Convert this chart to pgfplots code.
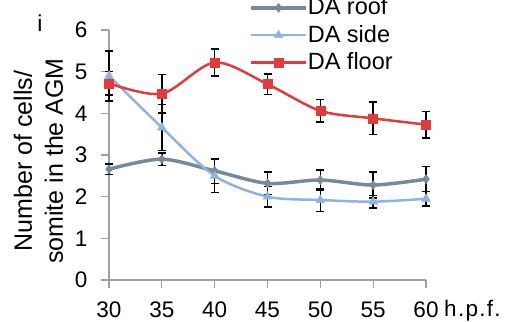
\documentclass[border=0pt]{standalone}
\usepackage{fontspec}
\setmainfont{Liberation Sans}
\usepackage{pgfplots}
\usepackage{pgfplotstable}
\pgfplotsset{compat=1.18}
\definecolor{roofc}{HTML}{778A99}
\definecolor{sidec}{HTML}{8DB4E2}
\definecolor{floorc}{HTML}{E03C3C}
\definecolor{axc}{HTML}{A0A0A0}
\pgfplotstableread{
x y e
30 2.66 0.13
35 2.90 0.15
40 2.62 0.30
45 2.32 0.27
50 2.40 0.24
55 2.28 0.31
60 2.42 0.30
}\roof
\pgfplotstableread{
x y e
30 4.90 0.60
35 3.66 0.55
40 2.50 0.40
45 2.00 0.25
50 1.92 0.28
55 1.88 0.15
60 1.95 0.17
}\side
\pgfplotstableread{
x y e
30 4.72 0.28
35 4.47 0.46
40 5.22 0.32
45 4.70 0.25
50 4.06 0.27
55 3.88 0.39
60 3.73 0.32
}\floor
\begin{document}
\fontsize{22.5}{27}\selectfont
\begin{tikzpicture}
\begin{axis}[
  at={(109pt,41pt)}, anchor=south west,
  scale only axis, width=317pt, height=250pt,
  xmin=30, xmax=60, ymin=0, ymax=6,
  xtick={30,35,40,45,50,55,60}, ytick={0,1,2,3,4,5,6},
  axis x line=bottom, axis y line=left,
  axis line style={-, axc, line width=1.5pt},
  tick style={axc, line width=1.2pt},
  major tick length=8pt, tick align=outside,
  clip=false,
  /pgf/number format/assume math mode=true,
  tick label style={font=\fontsize{22.5}{27}\selectfont},
  yticklabel style={xshift=-6pt},
  xticklabel style={yshift=-6pt},
  ylabel={Number of cells/\\somite in the AGM},
  ylabel style={align=center, font=\fontsize{25}{31}\selectfont, inner sep=0pt,
    anchor=center, at={(axis description cs:-0.2224,0.476)}},
  legend cell align=left,
  legend style={at={(rel axis cs:0.442,0.979)}, anchor=west, draw=none, fill=none,
    inner sep=0pt, row sep=7pt, font=\fontsize{23.5}{27}\selectfont,
    nodes={inner sep=0pt},
    /tikz/every even column/.append style={column sep=3pt}},
  legend image code/.code={\draw[mark repeat=2, mark phase=2, #1] plot coordinates {(0pt,0pt) (27.5pt,0pt) (55pt,0pt)};},
  error bars/y dir=both, error bars/y explicit,
  error bars/error bar style={black, line width=1.5pt},
  error bars/error mark options={rotate=90, black, mark size=4pt, line width=1.5pt},
]
\addplot[roofc, line width=3.5pt, smooth, mark=diamond*, mark size=4.5pt, mark options={line width=0.5pt}]
  table[x=x, y=y, y error=e] {\roof};
\addlegendentry{DA roof}
\addplot[sidec, line width=2.5pt, smooth, mark=triangle*, mark size=5pt, mark options={line width=0.5pt}]
  table[x=x, y=y, y error=e] {\side};
\addlegendentry{DA side}
\addplot[floorc, line width=2.5pt, smooth, mark=square*, mark size=4.5pt, mark options={line width=0.5pt}]
  table[x=x, y=y, y error=e] {\floor};
\addlegendentry{DA floor}
\end{axis}
\node[anchor=base west, inner sep=0pt, font=\fontsize{22.5}{27}\selectfont] at (444pt,4.3pt) {h\kern1.3pt.\kern1.3pt p\kern1.3pt.\kern1.3pt f\kern1.3pt.};
\node[anchor=base, inner sep=0pt, font=\fontsize{23}{27}\selectfont] at (40pt,289pt) {i};
\pgfresetboundingbox
\path[use as bounding box] (0,0) rectangle (505pt,321pt);
\end{tikzpicture}
\end{document}
